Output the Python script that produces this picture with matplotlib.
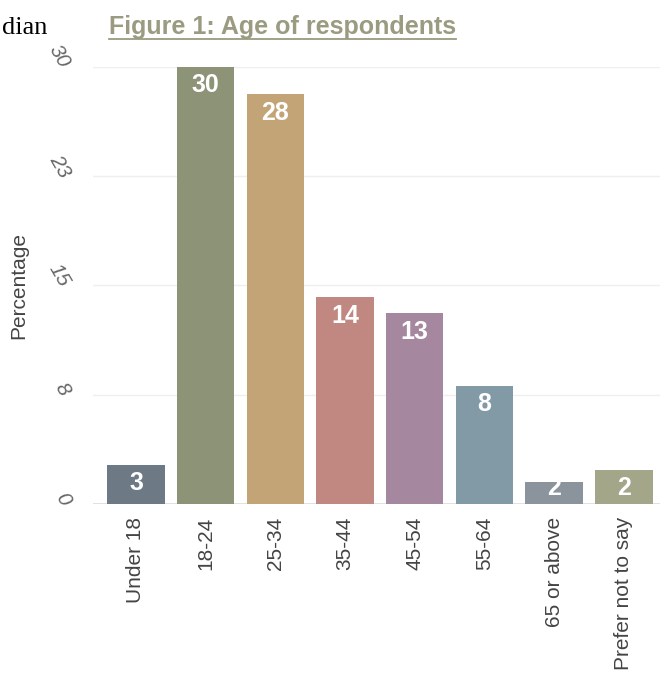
import matplotlib
matplotlib.use("Agg")
import matplotlib.pyplot as plt
from matplotlib.lines import Line2D

# data
categories = ['Under 18', '18-24', '25-34', '35-44', '45-54', '55-64',
              '65 or above', 'Prefer not to say']
percent = [2.7, 30.0, 28.1, 14.2, 13.1, 8.1, 1.5, 2.3]
bar_labels = ['3', '30', '28', '14', '13', '8', '2', '2']
bar_colors = ['#6d7985', '#8c9377', '#c3a477', '#c08880', '#a5879f',
              '#8299a6', '#8b939c', '#a4a68a']
ytick_vals = [0, 7.5, 15, 22.5, 30]
ytick_text = ['0', '8', '15', '23', '30']

plt.rcParams['font.family'] = ['Liberation Sans', 'DejaVu Sans']

fig = plt.figure(figsize=(6.6, 6.75), dpi=100)
ax = fig.add_axes([93 / 660, 0.2533, 567 / 660, 0.6479])

x = range(len(categories))
ax.bar(x, percent, width=0.826, color=bar_colors, zorder=2)

# value labels inside the bars, near the top
for i, (v, lab) in enumerate(zip(percent, bar_labels)):
    ax.text(i, max(v - 1.27, 1.08), lab, ha='center', va='center',
            color='white', fontsize=18, fontweight='bold', zorder=3)

ax.set_xlim(-0.617, 7.52)
ax.set_ylim(0, 30)
ax.set_xticks(list(x))
ax.set_xticklabels(categories, rotation=90, fontsize=15, color='#444444')
ax.set_yticks(ytick_vals)
ax.set_yticklabels(ytick_text, rotation=-60, fontsize=15, color='#666666',
                   style='italic', ha='right', va='center',
                   rotation_mode='anchor')
ax.tick_params(axis='x', length=0, pad=9)
ax.tick_params(axis='y', length=0, pad=20)

for s in ax.spines.values():
    s.set_visible(False)
ax.grid(axis='y', color='#efefef', linewidth=1, zorder=0)
ax.axhline(0, color='#d8d8d8', linewidth=1.2, zorder=1)

ax.set_ylabel('Percentage', fontsize=15, color='#444444')
ax.yaxis.set_label_coords(-0.115, 0.5)

# leftover text from the page and the figure title
fig.text(2 / 660, 1 - 34.3 / 675, 'dian', family='Liberation Serif',
         fontsize=19, color='black', va='baseline')
title = fig.text(109 / 660, 1 - 34.3 / 675, 'Figure 1: Age of respondents',
                 fontsize=18, fontweight='bold', color='#9a9b80', va='baseline')

fig.canvas.draw()
bb = title.get_window_extent().transformed(fig.transFigure.inverted())
uy = 1 - 38.5 / 675
fig.add_artist(Line2D([bb.x0, bb.x1], [uy, uy], transform=fig.transFigure,
                      color='#9a9b80', linewidth=1.3))

fig.savefig('out.png', dpi=100)
